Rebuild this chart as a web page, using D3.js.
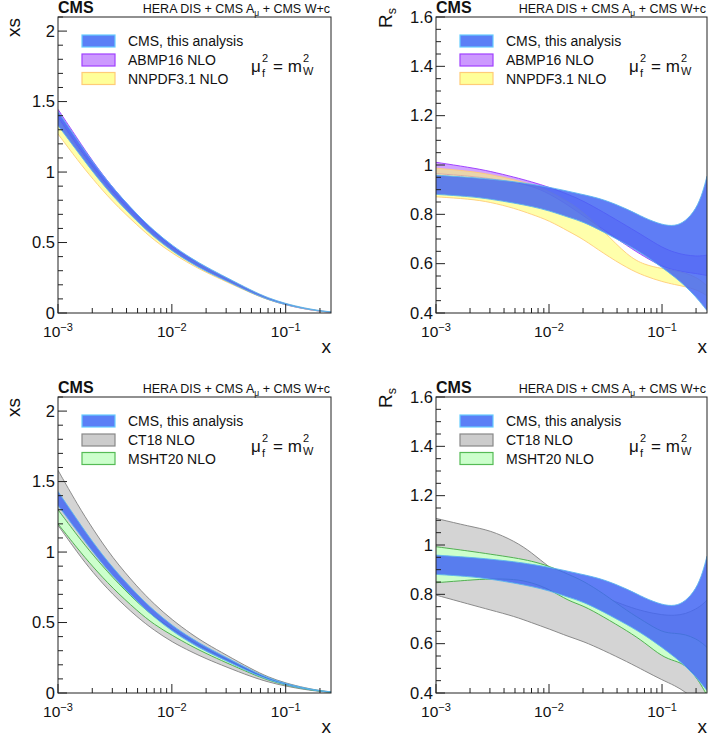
<!DOCTYPE html>
<html><head><meta charset="utf-8">
<script src="https://cdn.jsdelivr.net/npm/d3@7"></script>
<style>body{margin:0;background:#fff} svg{font-family:"Liberation Sans",Arial,Helvetica,sans-serif}</style>
</head><body><svg id="c" width="709" height="736"></svg>
<script>
// ---------- data ----------
const xsGrid = [0.001,0.0015,0.002,0.003,0.005,0.007,0.01,0.015,0.02,0.03,0.05,0.07,0.1,0.15,0.2,0.25];
const xsCmsHi   = [1.43,1.22,1.075,0.89,0.695,0.583,0.48,0.385,0.327,0.253,0.16,0.107,0.066,0.033,0.017,0.008];
const xsCmsLo   = [1.33,1.14,1.005,0.83,0.645,0.537,0.44,0.35,0.295,0.228,0.142,0.094,0.058,0.028,0.013,0.005];
const xsAbmpHi  = [1.445,1.23,1.08,0.89,0.69,0.575,0.47,0.375,0.315,0.24,0.15,0.10,0.06,0.029,0.014,0.006];
const xsAbmpLo  = [1.39,1.18,1.04,0.86,0.665,0.553,0.452,0.36,0.302,0.23,0.143,0.095,0.057,0.027,0.013,0.005];
const xsNnpdfHi = [1.38,1.17,1.03,0.85,0.665,0.555,0.46,0.37,0.315,0.245,0.155,0.103,0.064,0.031,0.015,0.007];
const xsNnpdfLo = [1.27,1.08,0.955,0.79,0.62,0.515,0.425,0.34,0.288,0.222,0.14,0.093,0.057,0.027,0.012,0.005];
const xsCt18Hi  = [1.58,1.33,1.17,0.96,0.75,0.63,0.52,0.415,0.35,0.27,0.17,0.113,0.07,0.035,0.017,0.008];
const xsCt18Lo  = [1.19,0.99,0.86,0.70,0.535,0.445,0.362,0.29,0.243,0.185,0.115,0.078,0.048,0.023,0.011,0.004];
const xsMshtHi  = [1.30,1.11,0.985,0.82,0.64,0.54,0.455,0.365,0.31,0.24,0.152,0.10,0.062,0.03,0.015,0.006];
const xsMshtLo  = [1.20,1.02,0.90,0.745,0.58,0.485,0.41,0.33,0.28,0.215,0.137,0.09,0.056,0.027,0.013,0.005];

const rsGrid = [0.001,0.002,0.003,0.005,0.007,0.01,0.015,0.02,0.03,0.05,0.07,0.1,0.13,0.16,0.2,0.23,0.25];
const rsCmsHi   = [0.959,0.95,0.943,0.932,0.922,0.91,0.893,0.88,0.862,0.82,0.785,0.757,0.752,0.77,0.82,0.89,0.955];
const rsCmsLo   = [0.881,0.872,0.862,0.845,0.832,0.815,0.787,0.77,0.73,0.675,0.635,0.585,0.545,0.51,0.465,0.43,0.41];
const rsAbmpHi  = [1.011,0.99,0.975,0.95,0.932,0.91,0.88,0.855,0.81,0.75,0.71,0.665,0.645,0.635,0.63,0.632,0.635];
const rsAbmpLo  = [0.965,0.955,0.945,0.93,0.915,0.885,0.835,0.795,0.74,0.67,0.628,0.588,0.574,0.566,0.56,0.555,0.552];
const rsNnpdfHi = [0.987,0.975,0.962,0.94,0.92,0.895,0.85,0.81,0.735,0.63,0.595,0.58,0.572,0.563,0.545,0.525,0.51];
const rsNnpdfLo = [0.871,0.862,0.85,0.824,0.80,0.775,0.73,0.70,0.643,0.58,0.55,0.527,0.515,0.507,0.495,0.48,0.47];
const rsCt18Hi  = [1.108,1.075,1.06,1.015,0.97,0.91,0.855,0.825,0.79,0.75,0.73,0.716,0.714,0.72,0.74,0.76,0.777];
const rsCt18Lo  = [0.797,0.759,0.737,0.71,0.685,0.66,0.628,0.61,0.574,0.525,0.49,0.453,0.43,0.405,0.37,0.35,0.335];
const rsMshtHi  = [0.993,0.975,0.963,0.948,0.935,0.915,0.88,0.855,0.805,0.73,0.69,0.645,0.642,0.638,0.62,0.6,0.585];
const rsMshtLo  = [0.847,0.858,0.863,0.862,0.848,0.822,0.772,0.755,0.71,0.65,0.605,0.547,0.53,0.515,0.466,0.42,0.39];

const legendA = ["CMS, this analysis","ABMP16 NLO","NNPDF3.1 NLO"];
const legendB = ["CMS, this analysis","CT18 NLO","MSHT20 NLO"];
const xDecades = [-3,-2,-1];
const xsTicks = [0,0.5,1,1.5,2];
const rsTicks = [0.4,0.6,0.8,1,1.2,1.4,1.6];

// ---------- styles ----------
const ST = {
  cms:  {fill:"#4366f3", op:0.85, stroke:"#5ab4ee", sw:"#5b7ff6", sb:"#66ccff"},
  abmp: {fill:"#cc99ff", op:0.9,  stroke:"#9933ff", sw:"#cc99ff", sb:"#a040ff"},
  nnpdf:{fill:"#ffff66", op:0.55, stroke:"#ffcc77", sw:"#ffff99", sb:"#ffcc77"},
  ct18: {fill:"#d4d4d4", op:1.0,  stroke:"#808080", sw:"#cccccc", sb:"#888888"},
  msht: {fill:"#ccffcc", op:1.0,  stroke:"#44aa44", sw:"#ccffcc", sb:"#55bb55"}
};

const svg = d3.select("#c");
const panels = [
  {l:58, r:331, t:17, b:313, kind:"xs", set:"A"},
  {l:436,r:707, t:17, b:313, kind:"rs", set:"A"},
  {l:58, r:331, t:397,b:693, kind:"xs", set:"B"},
  {l:436,r:707, t:397,b:693, kind:"rs", set:"B"}
];

panels.forEach((p,i)=>{
  const x = d3.scaleLog().domain([0.001,0.25]).range([p.l,p.r]);
  const y = p.kind==="xs" ? d3.scaleLinear().domain([0,2.1]).range([p.b,p.t])
                          : d3.scaleLinear().domain([0.4,1.6]).range([p.b,p.t]);
  const g = svg.append("g");
  const cid = "clip"+i;
  svg.append("clipPath").attr("id",cid).append("rect")
     .attr("x",p.l).attr("y",p.t).attr("width",p.r-p.l).attr("height",p.b-p.t);
  const plot = g.append("g").attr("clip-path",`url(#${cid})`);

  const grid = p.kind==="xs" ? xsGrid : rsGrid;
  let bands;
  if (p.kind==="xs") {
    bands = p.set==="A"
      ? [["abmp",xsAbmpLo,xsAbmpHi],["nnpdf",xsNnpdfLo,xsNnpdfHi],["cms",xsCmsLo,xsCmsHi]]
      : [["ct18",xsCt18Lo,xsCt18Hi],["msht",xsMshtLo,xsMshtHi],["cms",xsCmsLo,xsCmsHi]];
  } else {
    bands = p.set==="A"
      ? [["abmp",rsAbmpLo,rsAbmpHi],["nnpdf",rsNnpdfLo,rsNnpdfHi],["cms",rsCmsLo,rsCmsHi]]
      : [["ct18",rsCt18Lo,rsCt18Hi],["msht",rsMshtLo,rsMshtHi],["cms",rsCmsLo,rsCmsHi]];
  }
  bands.forEach(([key,lo,hi])=>{
    const s = ST[key];
    const data = grid.map((gx,k)=>({x:gx,lo:lo[k],hi:hi[k]}));
    const area = d3.area().x(d=>x(d.x)).y0(d=>y(d.lo)).y1(d=>y(d.hi)).curve(d3.curveBasis);
    plot.append("path").attr("d",area(data)).attr("fill",s.fill).attr("fill-opacity",s.op);
    ["lo","hi"].forEach(k=>{
      const line = d3.line().x(d=>x(d.x)).y(d=>y(d[k])).curve(d3.curveBasis);
      plot.append("path").attr("d",line(data)).attr("fill","none")
          .attr("stroke",s.stroke).attr("stroke-width",0.9);
    });
  });

  // frame
  g.append("rect").attr("x",p.l).attr("y",p.t).attr("width",p.r-p.l).attr("height",p.b-p.t)
   .attr("fill","none").attr("stroke","#222").attr("stroke-width",1);

  // x ticks
  for (let d=-3; d<=-1; d++){
    for (let m=1; m<=9; m++){
      const v = m*Math.pow(10,d);
      if (v>0.25) continue;
      const xp = x(v);
      const len = m===1 ? 9 : 5;
      g.append("line").attr("x1",xp).attr("x2",xp).attr("y1",p.b).attr("y2",p.b-len)
       .attr("stroke","#222").attr("stroke-width",1);
    }
  }
  xDecades.forEach(d=>{
    const t = g.append("text").attr("x",x(Math.pow(10,d))).attr("y",p.b+24)
      .attr("text-anchor","middle").attr("font-size",15.5).attr("fill","#111");
    t.append("tspan").text("10");
    t.append("tspan").attr("dy",-6).attr("font-size",11).text("\u2212"+(-d));
  });
  g.append("text").attr("x",p.r).attr("y",p.b+40).attr("text-anchor","end")
   .attr("font-size",19).attr("fill","#111").text("x");

  // y ticks
  const ticks = p.kind==="xs" ? xsTicks : rsTicks;
  const minorStep = p.kind==="xs" ? 0.1 : 0.05;
  const dom = y.domain();
  for (let v=dom[0]; v<=dom[1]+1e-9; v+=minorStep){
    const vv = Math.round(v*1000)/1000;
    const isMajor = ticks.some(t=>Math.abs(t-vv)<1e-6);
    g.append("line").attr("x1",p.l).attr("x2",p.l+(isMajor?9:5)).attr("y1",y(vv)).attr("y2",y(vv))
     .attr("stroke","#222").attr("stroke-width",1);
  }
  ticks.forEach(v=>{
    g.append("text").attr("x",p.l-3).attr("y",y(v)).attr("dy","0.35em").attr("text-anchor","end")
     .attr("font-size",16.5).attr("fill","#111").text(String(v));
  });

  // y title
  if (p.kind==="xs"){
    g.append("text").attr("transform",`translate(${p.l-38},${p.t+1}) rotate(-90)`)
     .attr("text-anchor","end").attr("font-size",19).attr("fill","#111").text("xs");
  } else {
    const t = g.append("text").attr("transform",`translate(${p.l-44},${p.t-9}) rotate(-90)`)
     .attr("text-anchor","end").attr("font-size",19).attr("fill","#111");
    t.append("tspan").text("R");
    t.append("tspan").attr("dy",4).attr("font-size",12.5).text("s");
  }

  // header
  g.append("text").attr("x",p.l).attr("y",p.t-4).attr("font-size",16).attr("font-weight","bold")
   .attr("fill","#111").text("CMS");
  const h = g.append("text").attr("x",p.r-1).attr("y",p.t-4).attr("text-anchor","end")
   .attr("font-size",12.5).attr("fill","#111");
  h.append("tspan").text("HERA DIS + CMS A");
  h.append("tspan").attr("dy",3).attr("font-size",8.5).text("\u03bc");
  h.append("tspan").attr("dy",-3).text(" + CMS W+c");

  // legend
  const labels = p.set==="A" ? legendA : legendB;
  const keys = p.set==="A" ? ["cms","abmp","nnpdf"] : ["cms","ct18","msht"];
  const rowY = [24, 43, 61.5];
  labels.forEach((lab,k)=>{
    const s = ST[keys[k]];
    g.append("rect").attr("x",p.l+24).attr("y",p.t+rowY[k]-6).attr("width",33).attr("height",12)
     .attr("fill",s.sw).attr("stroke",s.sb).attr("stroke-width",1.2);
    g.append("text").attr("x",p.l+70).attr("y",p.t+rowY[k]+5).attr("font-size",14)
     .attr("fill","#111").text(lab);
  });

  // mu_f^2 = m_W^2
  const mx = p.l+193, my = p.t+55;
  g.append("text").attr("x",mx).attr("y",my).attr("font-size",17).attr("fill","#111").text("\u03bc");
  g.append("text").attr("x",mx+11).attr("y",my-10).attr("font-size",11).attr("fill","#111").text("2");
  g.append("text").attr("x",mx+11).attr("y",my+5).attr("font-size",11).attr("fill","#111").text("f");
  g.append("text").attr("x",mx+22).attr("y",my).attr("font-size",17).attr("fill","#111").text("= m");
  g.append("text").attr("x",mx+52).attr("y",my-10).attr("font-size",11).attr("fill","#111").text("2");
  g.append("text").attr("x",mx+52).attr("y",my+3).attr("font-size",11).attr("fill","#111").text("W");
});
</script></body></html>
